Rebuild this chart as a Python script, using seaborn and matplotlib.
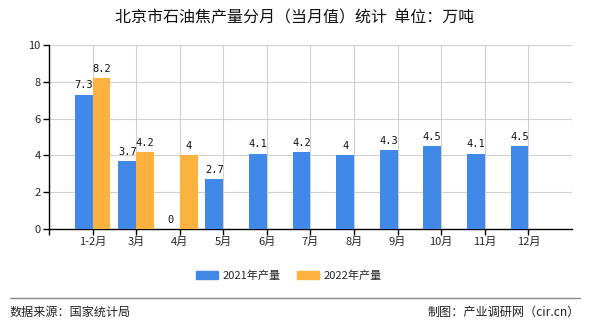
import numpy as np
import pandas as pd
import matplotlib
matplotlib.use("Agg")
import matplotlib.pyplot as plt
import seaborn as sns

categories = ["1-2月", "3月", "4月", "5月", "6月", "7月", "8月", "9月", "10月", "11月", "12月"]
values_2021 = [7.3, 3.7, 0, 2.7, 4.1, 4.2, 4, 4.3, 4.5, 4.1, 4.5]
values_2022 = [8.2, 4.2, 4, np.nan, np.nan, np.nan, np.nan, np.nan, np.nan, np.nan, np.nan]
series_names = ["2021年产量", "2022年产量"]
colors = ["#4189E8", "#FDB13F"]
title = "北京市石油焦产量分月（当月值）统计  单位：万吨"
source_left = "数据来源：国家统计局"
source_right = "制图：产业调研网（cir.cn）"

df = pd.DataFrame({
    "month": categories * 2,
    "value": values_2021 + values_2022,
    "series": [series_names[0]] * len(categories) + [series_names[1]] * len(categories),
})

sns.set_theme(style="white")
plt.rcParams["font.family"] = ["Noto Sans CJK SC", "DejaVu Sans"]

fig = plt.figure(figsize=(5.9, 3.3), dpi=100)
ax = fig.add_axes([0.083, 0.306, 0.8865, 0.558])

sns.barplot(data=df, x="month", y="value", hue="series", order=categories,
            hue_order=series_names, palette=colors, width=0.82, saturation=1,
            linewidth=0, edgecolor="none", ax=ax, zorder=3, legend=True)

for cont in ax.containers:
    vals = cont.datavalues
    labels = ["" if np.isnan(v) else f"{v:g}" for v in vals]
    ax.bar_label(cont, labels=labels, padding=3, fontsize=7.5,
                 family=["DejaVu Sans Mono"], color="#111111")

n = len(categories)
ax.set_xlim(-1, n)
ax.set_ylim(0, 10)
ax.set_yticks([0, 2, 4, 6, 8, 10])
ax.set_yticklabels(["0", "2", "4", "6", "8", "10"], fontsize=8)
ax.set_xticks(list(range(-1, n)))
ax.set_xticklabels([""] + categories, fontsize=8)
ax.set_xticks([n], minor=True)
ax.grid(True, which="both", color="#d0d0d0", linewidth=0.8, zorder=0)
ax.set_axisbelow(True)
ax.set_xlabel("")
ax.set_ylabel("")
for s in ["top", "right"]:
    ax.spines[s].set_visible(False)
for s in ["left", "bottom"]:
    ax.spines[s].set_color("black")
    ax.spines[s].set_linewidth(1.0)
ax.tick_params(axis="both", which="major", length=4, width=1, color="black",
               direction="out", pad=2, bottom=True, left=True)
ax.tick_params(axis="x", which="minor", length=0)

ax.legend_.remove()
handles = [plt.Rectangle((0, 0), 1, 1, color=c) for c in colors]
fig.legend(handles, series_names, loc="center", bbox_to_anchor=(0.49, 0.165),
           ncol=2, frameon=False, fontsize=8, handlelength=2.0, handleheight=0.65,
           columnspacing=1.45, handletextpad=0.4)

fig.text(0.5, 0.945, title, ha="center", va="center", fontsize=11.5, color="#111111")
fig.add_artist(plt.Line2D([0.017, 0.983], [0.097, 0.097], color="#888888", linewidth=1,
                          transform=fig.transFigure))
fig.text(0.017, 0.055, source_left, ha="left", va="center", fontsize=8.7, color="#222222")
fig.text(0.983, 0.055, source_right, ha="right", va="center", fontsize=8.7, color="#222222")

fig.savefig("out.png", dpi=100)
